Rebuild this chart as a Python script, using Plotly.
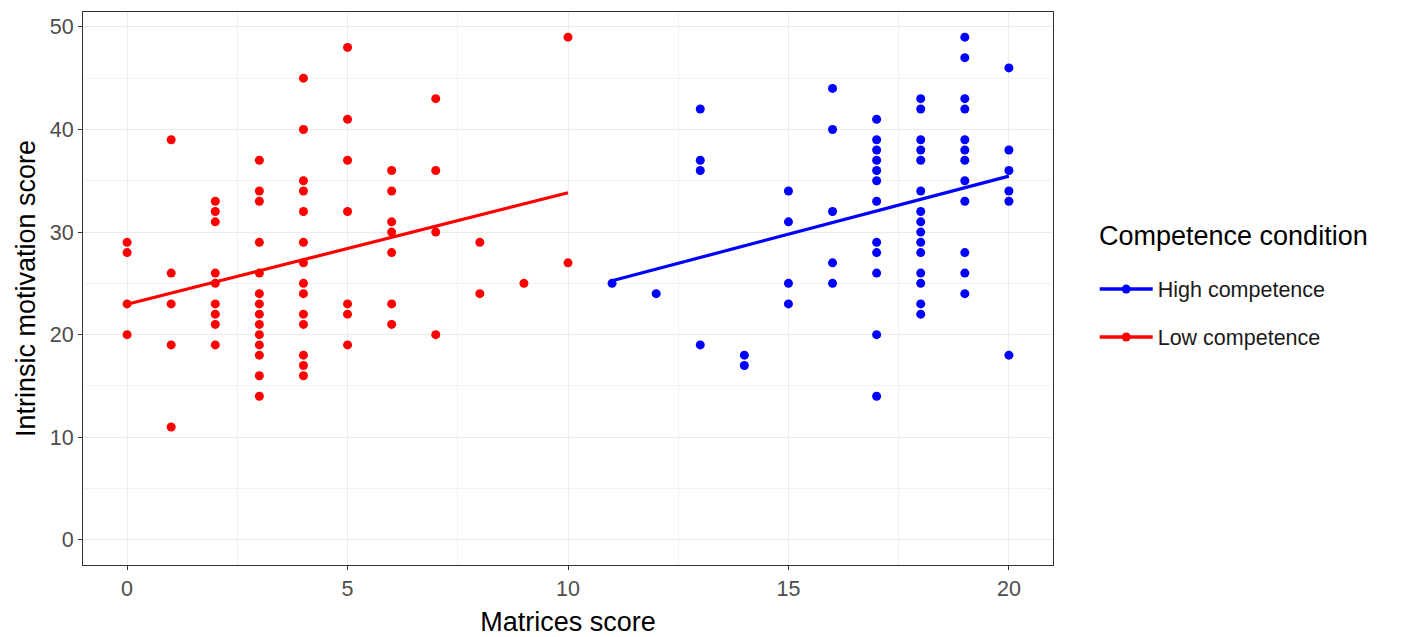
import numpy as np
import plotly.graph_objects as go

# Low competence group (red)
low_x = ([0]*4 + [1]*5 + [2]*9 + [3]*14 + [4]*14 + [5]*7 + [6]*7 + [7]*4
         + [8]*2 + [9]*1 + [10]*2)
low_y = ([29, 28, 23, 20] +
         [39, 26, 23, 19, 11] +
         [33, 32, 31, 26, 25, 23, 22, 21, 19] +
         [37, 34, 33, 29, 26, 24, 23, 22, 21, 20, 19, 18, 16, 14] +
         [45, 40, 35, 34, 32, 29, 27, 25, 24, 22, 21, 18, 17, 16] +
         [48, 41, 37, 32, 23, 22, 19] +
         [36, 34, 31, 30, 28, 23, 21] +
         [43, 36, 30, 20] +
         [29, 24] +
         [25] +
         [49, 27])

# High competence group (blue)
high_x = ([11]*1 + [12]*1 + [13]*4 + [14]*2 + [15]*4 + [16]*5 + [17]*12
          + [18]*15 + [19]*12 + [20]*6)
high_y = ([25] +
          [24] +
          [42, 37, 36, 19] +
          [18, 17] +
          [34, 31, 25, 23] +
          [44, 40, 32, 27, 25] +
          [41, 39, 38, 37, 36, 35, 33, 29, 28, 26, 20, 14] +
          [43, 42, 39, 38, 37, 34, 32, 31, 30, 29, 28, 26, 25, 23, 22] +
          [49, 47, 43, 42, 39, 38, 37, 35, 33, 28, 26, 24] +
          [46, 38, 36, 34, 33, 18])

groups = [
    ("High competence", high_x, high_y, "#0000FF"),
    ("Low competence", low_x, low_y, "#FF0000"),
]

x_ticks = [0, 5, 10, 15, 20]
y_ticks = [0, 10, 20, 30, 40, 50]
legend_title = "Competence condition"

fig = go.Figure()
for i, (name, xs, ys, col) in enumerate(groups):
    xs_a = np.array(xs, dtype=float)
    ys_a = np.array(ys, dtype=float)
    slope, intercept = np.polyfit(xs_a, ys_a, 1)
    lx = np.array([xs_a.min(), xs_a.max()])
    ly = intercept + slope * lx
    fig.add_trace(go.Scatter(
        x=xs_a, y=ys_a, mode="markers", name=name, legendgroup=name,
        showlegend=False, marker=dict(color=col, size=9, line=dict(width=0)),
        hoverinfo="x+y"))
    fig.add_trace(go.Scatter(
        x=lx, y=ly, mode="lines", name=name, legendgroup=name,
        showlegend=False, line=dict(color=col, width=3.2)))
    # legend key: line + point
    fig.add_trace(go.Scatter(
        x=[None], y=[None], mode="lines+markers", name=name, legendgroup=name,
        showlegend=True, line=dict(color=col, width=3.5),
        marker=dict(color=col, size=9)))

font_family = "Liberation Sans, Arial, sans-serif"
fig.update_layout(
    width=1402, height=637,
    margin=dict(l=83, r=349, t=12, b=72),
    paper_bgcolor="white", plot_bgcolor="white",
    font=dict(family=font_family, color="#000000"),
    showlegend=True,
    legend=dict(
        x=1.043, y=0.536, xanchor="left", yanchor="top",
        font=dict(size=21.5, color="#1A1A1A"),
        traceorder="grouped", tracegroupgap=17,
        itemwidth=53, bgcolor="rgba(0,0,0,0)",
    ),
    annotations=[dict(
        text=legend_title, xref="paper", yref="paper",
        x=1.0454, y=0.595, xanchor="left", yanchor="middle", showarrow=False,
        font=dict(size=27, color="#000000"))],
    xaxis=dict(
        range=[-1, 21], tickvals=x_ticks, ticktext=[str(v) for v in x_ticks],
        automargin=False,
        showgrid=True, gridcolor="#EBEBEB", gridwidth=1.1,
        minor=dict(tickvals=[2.5, 7.5, 12.5, 17.5], showgrid=True,
                   gridcolor="#F2F2F2", gridwidth=0.6, ticks=""),
        zeroline=False, showline=True, mirror=True, linecolor="#333333", linewidth=1,
        ticks="outside", ticklen=4, tickcolor="#333333", tickwidth=1,
        tickfont=dict(size=21.5, color="#4D4D4D"),
        title=dict(text="Matrices score", font=dict(size=27, color="#000000"), standoff=12),
    ),
    yaxis=dict(
        range=[-2.45, 51.45], tickvals=y_ticks, ticktext=[str(v) for v in y_ticks],
        automargin=False,
        showgrid=True, gridcolor="#EBEBEB", gridwidth=1.1,
        minor=dict(tickvals=[5, 15, 25, 35, 45], showgrid=True,
                   gridcolor="#F2F2F2", gridwidth=0.6, ticks=""),
        zeroline=False, showline=True, mirror=True, linecolor="#333333", linewidth=1,
        ticks="outside", ticklen=4, tickcolor="#333333", tickwidth=1,
        tickfont=dict(size=21.5, color="#4D4D4D"),
        title=dict(text="Intrinsic motivation score", font=dict(size=27, color="#000000"), standoff=6),
    ),
)

fig.write_html("out.html")
